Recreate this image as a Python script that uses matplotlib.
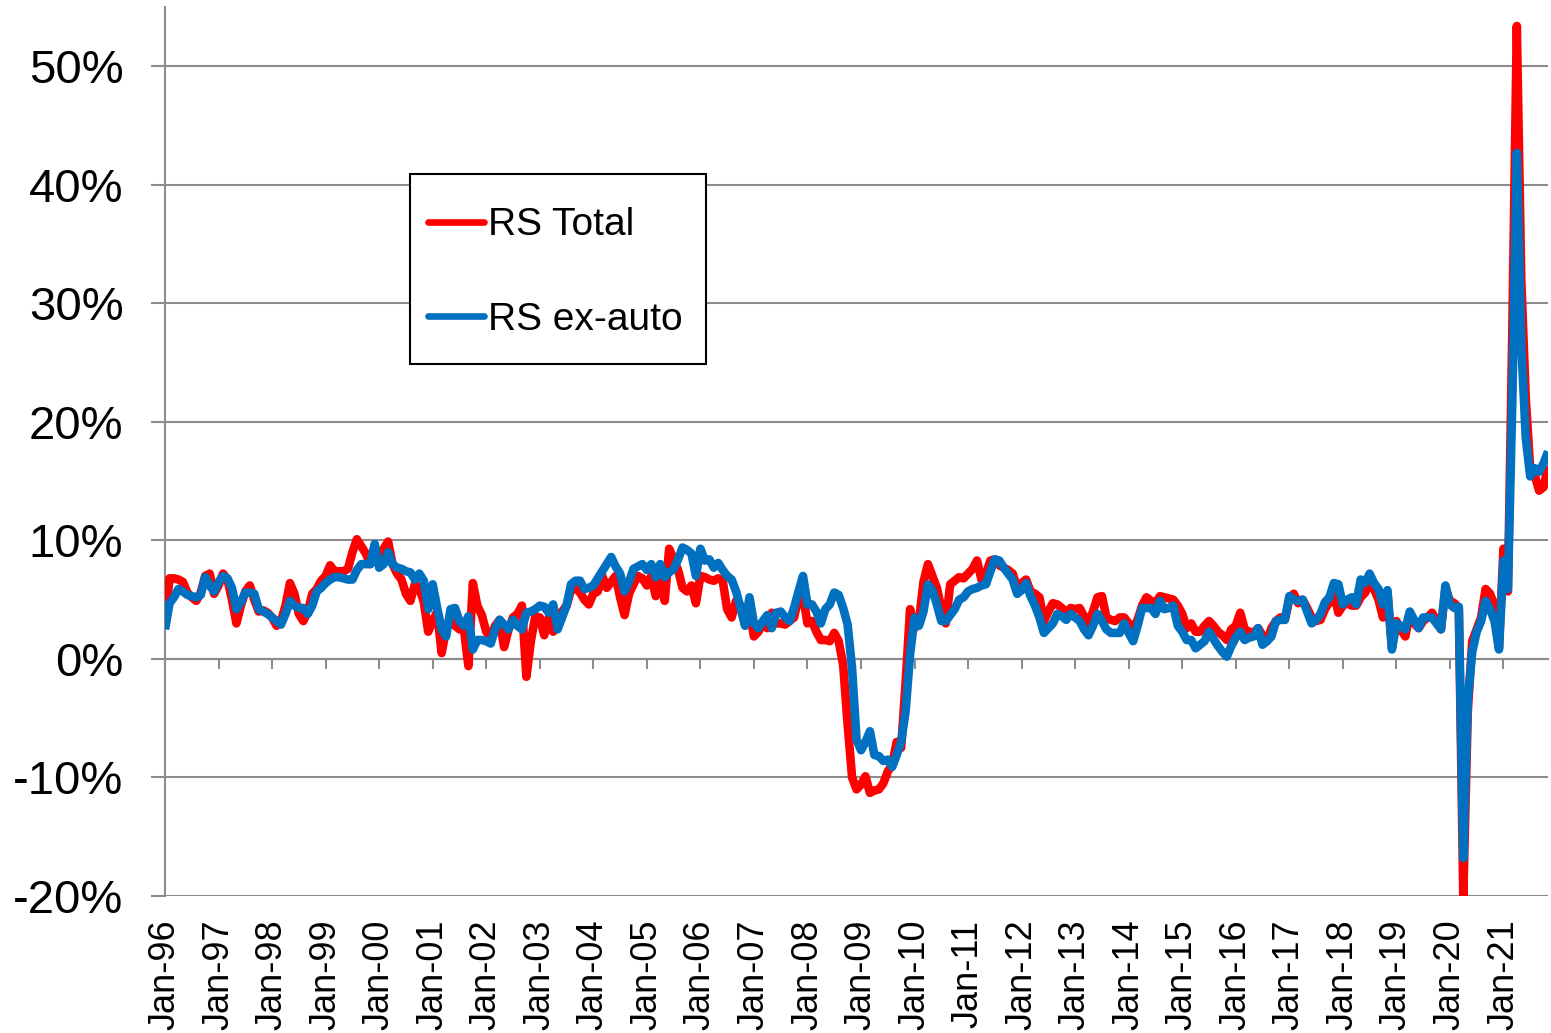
import matplotlib
matplotlib.use("Agg")
import matplotlib.pyplot as plt
import numpy as np
from matplotlib.ticker import FuncFormatter
from matplotlib.patches import Rectangle

plt.rcParams['font.family'] = ['Liberation Sans', 'DejaVu Sans']

# Monthly YoY growth (%), Jan-96 onwards
rs_total = [
    3.2, 6.8, 6.8, 6.7, 6.5, 5.6, 5.2, 4.9, 5.6, 7.0, 7.2, 5.5,
    6.2, 7.2, 6.7, 5.0, 3.0, 4.5, 5.7, 6.2, 5.0, 4.0, 4.1, 3.9,
    3.5, 2.8, 3.2, 4.5, 6.4, 5.5, 3.8, 3.2, 4.0, 5.5, 5.9, 6.6,
    7.0, 7.9, 7.4, 7.4, 7.4, 7.6, 9.0, 10.1, 9.5, 8.9, 8.0, 8.5,
    8.9, 9.3, 9.9, 8.0, 7.2, 6.7, 5.5, 4.9, 6.3, 6.0, 4.8, 2.3,
    3.2, 4.0, 0.5, 2.5, 3.2, 2.8, 2.5, 2.5, -0.6, 6.4, 4.5, 3.7,
    2.3, 1.8, 2.8, 3.3, 1.0, 2.5, 3.5, 3.8, 4.5, -1.5, 1.5, 3.6,
    3.5, 2.0, 3.5, 2.3, 3.5, 4.0, 4.5, 5.8, 6.0, 5.6, 5.0, 4.6,
    5.5, 5.7, 7.0, 6.0, 6.5, 7.0, 5.2, 3.7, 5.5, 6.3, 7.0, 6.8,
    6.2, 7.0, 5.3, 6.7, 4.9, 9.3, 8.4, 7.5, 6.0, 5.7, 6.2, 4.7,
    7.0, 6.9, 6.7, 6.6, 6.8, 6.6, 4.2, 3.5, 4.9, 4.5, 3.7, 4.0,
    1.9, 2.3, 3.0, 2.6, 3.9, 3.0, 3.0, 2.9, 3.2, 3.5, 5.2, 5.3,
    3.0, 3.2, 2.3, 1.6, 1.6, 1.5, 2.2, 1.5, -0.5, -5.5, -10.0, -11.0,
    -10.6, -9.9, -11.3, -11.1, -11.0, -10.5, -9.5, -8.9, -7.0, -7.5, -2.0, 4.2,
    2.6, 3.2, 6.5, 8.0, 7.0, 6.0, 4.3, 3.0, 6.3, 6.6, 6.9, 6.8,
    7.2, 7.6, 8.3, 6.7, 7.2, 8.3, 8.4, 7.9, 7.7, 7.5, 7.2, 6.0,
    6.4, 6.7, 5.7, 5.5, 5.2, 3.2, 4.0, 4.7, 4.6, 4.3, 3.9, 4.3,
    4.2, 4.3, 3.6, 3.0, 4.0, 5.2, 5.3, 3.5, 3.3, 3.2, 3.5, 3.5,
    3.0, 2.6, 3.3, 4.5, 5.2, 4.9, 4.7, 5.3, 5.2, 5.1, 5.0, 4.5,
    3.8, 2.6, 3.0, 2.3, 2.3, 2.8, 3.2, 2.8, 2.3, 2.0, 1.6, 2.5,
    2.8, 3.9, 2.5, 2.3, 2.2, 2.6, 2.0, 1.5, 2.6, 3.2, 3.5, 3.3,
    5.0, 5.5, 4.7, 5.0, 4.3, 3.5, 3.2, 3.3, 4.2, 4.8, 5.5, 3.9,
    4.5, 4.7, 4.5, 4.5, 5.2, 5.6, 6.3, 5.9, 5.0, 3.5, 5.6, 1.0,
    3.2, 2.5, 1.9, 3.8, 3.0, 2.6, 3.2, 3.5, 3.9, 3.2, 2.5, 6.0,
    4.9, 4.7, 4.3, -20.0, -4.5, 1.5, 2.5, 3.5, 5.9, 5.5, 4.5, 1.0,
    9.3, 5.7, 28.0, 53.4, 32.0, 22.0, 16.0, 15.5, 14.2, 14.5, 16.3,
]

rs_ex_auto = [
    2.5, 4.7, 5.2, 5.9, 5.7, 5.4, 5.3, 5.2, 5.4, 6.9, 6.2, 5.7,
    6.5, 7.0, 6.8, 6.0, 4.2, 4.8, 5.6, 5.6, 5.5, 4.2, 4.0, 3.8,
    3.5, 3.2, 2.9, 3.8, 4.9, 4.5, 4.3, 4.3, 3.8, 4.5, 5.7, 6.0,
    6.4, 6.7, 6.9, 6.9, 6.8, 6.7, 6.7, 7.5, 8.0, 8.0, 8.0, 9.7,
    7.7, 8.0, 9.0, 8.0, 7.7, 7.6, 7.4, 7.3, 6.7, 7.2, 6.6, 4.2,
    6.3, 4.3, 2.5, 1.9, 4.2, 4.3, 3.2, 2.8, 3.6, 0.8, 1.6, 1.6,
    1.5, 1.3, 2.5, 3.3, 2.9, 2.5, 3.3, 2.8, 2.5, 3.9, 4.0, 4.2,
    4.5, 4.4, 3.9, 4.6, 2.5, 3.5, 4.5, 6.3, 6.6, 6.6, 5.9, 6.0,
    6.2, 6.8, 7.4, 8.0, 8.6, 7.8, 7.2, 5.7, 6.5, 7.6, 7.8, 8.0,
    7.5, 8.0, 6.9, 8.0, 6.9, 7.3, 7.6, 8.4, 9.4, 9.2, 8.9, 7.0,
    9.3, 8.3, 8.4, 7.7, 8.1, 7.5, 7.0, 6.7, 5.7, 4.3, 2.8, 5.2,
    3.0, 2.6, 3.2, 3.7, 2.6, 3.9, 4.0, 3.5, 3.2, 4.3, 5.7, 7.0,
    4.6, 4.6, 4.0, 3.0, 4.2, 4.6, 5.6, 5.4, 4.3, 2.9, -0.8, -6.8,
    -7.7, -7.0, -6.1, -8.1, -8.2, -8.6, -8.5, -9.1, -8.1, -7.0, -4.4, 0.4,
    3.5, 2.8, 4.0, 6.3, 5.8, 4.6, 3.2, 3.2, 3.7, 4.2, 5.0, 5.2,
    5.7, 5.9, 6.0, 6.2, 6.3, 7.4, 8.4, 8.3, 7.7, 7.2, 6.7, 5.5,
    5.8, 6.4, 5.3, 4.5, 3.5, 2.2, 2.6, 3.0, 3.8, 3.6, 3.3, 3.8,
    3.5, 3.2, 2.5, 2.0, 2.8, 3.8, 3.2, 2.5, 2.2, 2.2, 2.2, 3.0,
    2.2, 1.5, 2.8, 4.3, 4.3, 4.3, 3.8, 4.9, 4.2, 4.3, 4.5, 2.8,
    2.3, 1.6, 1.6, 0.9, 1.2, 1.5, 2.3, 1.7, 1.1, 0.6, 0.2, 1.1,
    1.8, 2.3, 1.6, 1.8, 1.9, 2.6, 1.2, 1.5, 1.9, 3.2, 3.3, 3.3,
    5.3, 5.0, 4.9, 5.0, 4.0, 3.0, 3.3, 3.8, 4.8, 5.2, 6.4, 6.3,
    4.6, 5.0, 5.2, 4.6, 6.7, 6.4, 7.2, 6.4, 5.9, 4.6, 5.8, 0.8,
    3.0, 2.8, 2.5, 4.0, 3.3, 2.6, 3.5, 3.5, 3.5, 3.0, 2.5, 6.2,
    4.6, 4.3, 4.4, -16.8, -3.5, 0.6, 2.3, 3.2, 4.9, 4.2, 3.2, 0.8,
    8.3, 5.9, 22.0, 42.7, 26.5, 18.7, 15.4, 16.1, 15.8, 16.5, 17.5,
]

tick_labels = ["Jan-%02d" % (y % 100) for y in range(1996, 2022)]
tick_months = [12 * i for i in range(len(tick_labels))]

months = np.arange(len(rs_total))
red = np.array(rs_total) / 100.0
blue = np.array(rs_ex_auto) / 100.0

fig = plt.figure(figsize=(15.51, 10.33), dpi=100)
ax = fig.add_axes([0.1064, 0.1326, 0.8917, 0.8606])

grid_col = '#8c8c8c'
ax.plot(months, red, color='#FF0000', lw=6.2, solid_joinstyle='round',
        solid_capstyle='butt', label='RS Total', zorder=3)
ax.plot(months, blue, color='#0070C0', lw=6.2, solid_joinstyle='round',
        solid_capstyle='butt', label='RS ex-auto', zorder=4)

ax.set_xlim(0, len(rs_total) - 1)
ax.set_ylim(-0.2, 0.55)
ax.set_yticks(np.arange(-0.2, 0.51, 0.1))
ax.yaxis.set_major_formatter(FuncFormatter(lambda v, p: "%d%%" % round(v * 100)))
ax.grid(axis='y', color=grid_col, lw=1.5, zorder=1)
ax.set_axisbelow(True)
for s in ['top', 'right', 'bottom']:
    ax.spines[s].set_visible(False)
ax.spines['left'].set_color(grid_col)
ax.spines['left'].set_linewidth(1.5)
ax.tick_params(axis='y', direction='out', length=10, width=1.5, color=grid_col,
               labelsize=34, pad=20)

ax.set_xticks(tick_months)
ax.set_xticklabels(tick_labels, rotation=90, fontsize=26)
ax.tick_params(axis='x', length=0, pad=17)

# zero-line category axis with downward tick marks
zero_frac = (0 - (-0.2)) / (0.55 - (-0.2))
sec = ax.secondary_xaxis(zero_frac)
sec.set_xticks(tick_months)
sec.set_xticklabels([])
sec.tick_params(axis='x', direction='out', length=7, width=1.5, color=grid_col)
sec.spines['bottom'].set_color(grid_col)
sec.spines['bottom'].set_linewidth(1.5)

# legend (frameless) + separate box
leg = ax.legend(loc='upper left', bbox_to_anchor=(0.1772, 0.7948), borderaxespad=0,
                fontsize=28, frameon=False,
                handlelength=1.44, handletextpad=0.1, borderpad=0.46,
                labelspacing=1.5)
for ln in leg.get_lines():
    ln.set_linewidth(4.8)
    ln.set_solid_capstyle('round')
leg.set_zorder(6)
box = Rectangle((0.1772, 0.5984), 0.3912 - 0.1772, 0.8121 - 0.5984,
                transform=ax.transAxes, facecolor='white', edgecolor='black',
                lw=1.5, zorder=5)
ax.add_patch(box)

fig.savefig('out.png', dpi=100, facecolor='white')
